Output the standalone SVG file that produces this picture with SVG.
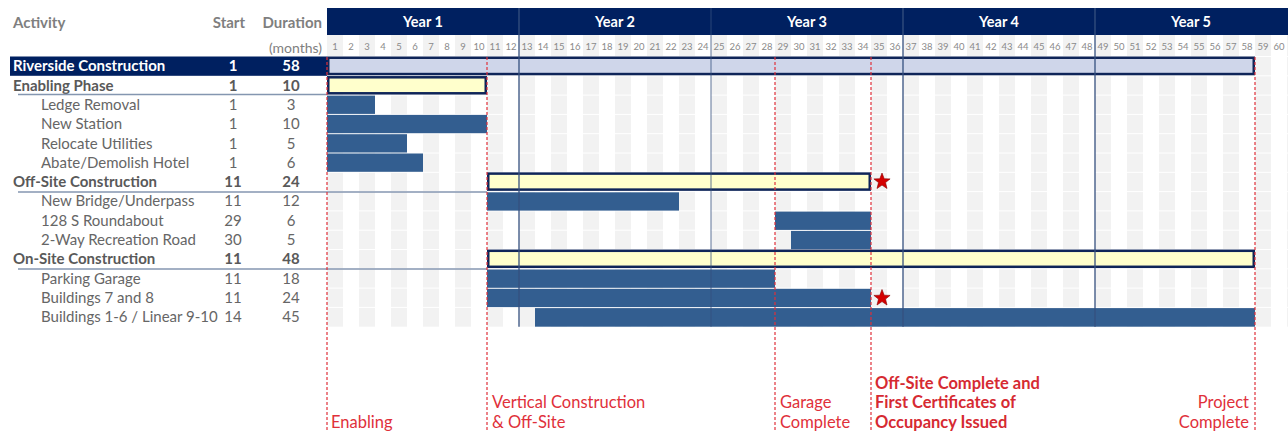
<svg xmlns="http://www.w3.org/2000/svg" width="1288" height="432" viewBox="0 0 1288 432">
<defs>
<style>
text{font-family:Lato,"Open Sans","Liberation Sans",sans-serif;}
.hd{font-size:15px;font-weight:bold;fill:#7f7f7f;}
.mo{font-size:14px;fill:#7f7f7f;}
.yr{font-size:14.5px;font-weight:bold;fill:#ffffff;text-anchor:middle;}
.mn{font-size:9.5px;fill:#8a8a8a;text-anchor:middle;}
.grp{font-size:15px;font-weight:bold;fill:#595959;}
.sub{font-size:15px;fill:#666666;}
.num{text-anchor:middle;}
.top{font-size:15px;font-weight:bold;fill:#ffffff;}
.bar{fill:#335e90;}
.sum{fill:#ffffcc;stroke:#0f2559;stroke-width:2.5;}
.sep{stroke:#8496b0;stroke-width:1.5;}
.ms{stroke:#e0303a;stroke-width:1.2;stroke-dasharray:3 2;fill:none;}
.yl{stroke:#35507f;stroke-width:1.3;}
.lb{font-size:16.5px;fill:#e0303a;}
.lbb{font-size:16.5px;font-weight:bold;fill:#d62a32;}
.star{fill:#d40000;stroke:#8a0000;stroke-width:0.6;}
</style>
<pattern id="cols" x="327" y="0" width="32" height="432" patternUnits="userSpaceOnUse"><rect x="0" y="0" width="16" height="432" fill="#f2f2f2"/></pattern>
<polygon id="starshape" points="0,-8.5 2.2,-2.8 8.1,-2.6 3.5,1.1 5,7 0,3.6 -5,7 -3.5,1.1 -8.1,-2.6 -2.2,-2.8"/>
</defs>
<rect x="0" y="0" width="1288" height="432" fill="#ffffff"/>

<g id="grid">
<rect x="327" y="35" width="961" height="291.7" fill="url(#cols)"/>
<g stroke="#ffffff" stroke-width="1">
<line x1="327" y1="56.5" x2="1288" y2="56.5"/>
<line x1="327" y1="75.8" x2="1288" y2="75.8"/>
<line x1="327" y1="95.1" x2="1288" y2="95.1"/>
<line x1="327" y1="114.4" x2="1288" y2="114.4"/>
<line x1="327" y1="133.7" x2="1288" y2="133.7"/>
<line x1="327" y1="153" x2="1288" y2="153"/>
<line x1="327" y1="172.3" x2="1288" y2="172.3"/>
<line x1="327" y1="191.6" x2="1288" y2="191.6"/>
<line x1="327" y1="210.9" x2="1288" y2="210.9"/>
<line x1="327" y1="230.2" x2="1288" y2="230.2"/>
<line x1="327" y1="249.5" x2="1288" y2="249.5"/>
<line x1="327" y1="268.8" x2="1288" y2="268.8"/>
<line x1="327" y1="288.1" x2="1288" y2="288.1"/>
<line x1="327" y1="307.4" x2="1288" y2="307.4"/>
</g>
</g>

<g id="header">
<text class="hd" x="13" y="27.5">Activity</text>
<text class="hd" x="245" y="27.5" text-anchor="end">Start</text>
<text class="hd" x="322" y="27.5" text-anchor="end">Duration</text>
<text class="mo" x="322" y="52.5" text-anchor="end">(months)</text>
<rect x="327" y="8" width="961" height="27" fill="#002060"/>
<text class="yr" x="423" y="27">Year 1</text>
<text class="yr" x="615" y="27">Year 2</text>
<text class="yr" x="807" y="27">Year 3</text>
<text class="yr" x="999" y="27">Year 4</text>
<text class="yr" x="1191" y="27">Year 5</text>
<g id="months">
<text class="mn" x="335" y="50">1</text><text class="mn" x="351" y="50">2</text><text class="mn" x="367" y="50">3</text><text class="mn" x="383" y="50">4</text><text class="mn" x="399" y="50">5</text><text class="mn" x="415" y="50">6</text><text class="mn" x="431" y="50">7</text><text class="mn" x="447" y="50">8</text><text class="mn" x="463" y="50">9</text><text class="mn" x="479" y="50">10</text><text class="mn" x="495" y="50">11</text><text class="mn" x="511" y="50">12</text>
<text class="mn" x="527" y="50">13</text><text class="mn" x="543" y="50">14</text><text class="mn" x="559" y="50">15</text><text class="mn" x="575" y="50">16</text><text class="mn" x="591" y="50">17</text><text class="mn" x="607" y="50">18</text><text class="mn" x="623" y="50">19</text><text class="mn" x="639" y="50">20</text><text class="mn" x="655" y="50">21</text><text class="mn" x="671" y="50">22</text><text class="mn" x="687" y="50">23</text><text class="mn" x="703" y="50">24</text>
<text class="mn" x="719" y="50">25</text><text class="mn" x="735" y="50">26</text><text class="mn" x="751" y="50">27</text><text class="mn" x="767" y="50">28</text><text class="mn" x="783" y="50">29</text><text class="mn" x="799" y="50">30</text><text class="mn" x="815" y="50">31</text><text class="mn" x="831" y="50">32</text><text class="mn" x="847" y="50">33</text><text class="mn" x="863" y="50">34</text><text class="mn" x="879" y="50">35</text><text class="mn" x="895" y="50">36</text>
<text class="mn" x="911" y="50">37</text><text class="mn" x="927" y="50">38</text><text class="mn" x="943" y="50">39</text><text class="mn" x="959" y="50">40</text><text class="mn" x="975" y="50">41</text><text class="mn" x="991" y="50">42</text><text class="mn" x="1007" y="50">43</text><text class="mn" x="1023" y="50">44</text><text class="mn" x="1039" y="50">45</text><text class="mn" x="1055" y="50">46</text><text class="mn" x="1071" y="50">47</text><text class="mn" x="1087" y="50">48</text>
<text class="mn" x="1103" y="50">49</text><text class="mn" x="1119" y="50">50</text><text class="mn" x="1135" y="50">51</text><text class="mn" x="1151" y="50">52</text><text class="mn" x="1167" y="50">53</text><text class="mn" x="1183" y="50">54</text><text class="mn" x="1199" y="50">55</text><text class="mn" x="1215" y="50">56</text><text class="mn" x="1231" y="50">57</text><text class="mn" x="1247" y="50">58</text><text class="mn" x="1263" y="50">59</text><text class="mn" x="1279" y="50">60</text>
</g>
</g>

<g id="row-riverside">
<rect x="10" y="56.5" width="317" height="19.3" fill="#002060"/>
<text class="top" x="13" y="71.3">Riverside Construction</text>
<text class="top num" x="233" y="71.3">1</text>
<text class="top num" x="291" y="71.3">58</text>
<rect x="328.25" y="57.75" width="925.5" height="16.3" fill="#cfd6ea" stroke="#0f2559" stroke-width="2.5"/>
</g>

<g id="row-enabling">
<text class="grp" x="13" y="90.6">Enabling Phase</text>
<text class="grp num" x="233" y="90.6">1</text>
<text class="grp num" x="291" y="90.6">10</text>
<line class="sep" x1="18" y1="94.6" x2="327" y2="94.6"/>
<rect class="sum" x="328.25" y="77.3" width="157.5" height="16"/>
</g>
<g id="row-ledge">
<text class="sub" x="41" y="109.9">Ledge Removal</text>
<text class="sub num" x="233" y="109.9">1</text>
<text class="sub num" x="291" y="109.9">3</text>
<rect class="bar" x="327" y="95.6" width="48" height="18.3"/>
</g>
<g id="row-station">
<text class="sub" x="41" y="129.2">New Station</text>
<text class="sub num" x="233" y="129.2">1</text>
<text class="sub num" x="291" y="129.2">10</text>
<rect class="bar" x="327" y="114.9" width="160" height="18.3"/>
</g>
<g id="row-relocate">
<text class="sub" x="41" y="148.5">Relocate Utilities</text>
<text class="sub num" x="233" y="148.5">1</text>
<text class="sub num" x="291" y="148.5">5</text>
<rect class="bar" x="327" y="134.2" width="80" height="18.3"/>
</g>
<g id="row-abate">
<text class="sub" x="41" y="167.8">Abate/Demolish Hotel</text>
<text class="sub num" x="233" y="167.8">1</text>
<text class="sub num" x="291" y="167.8">6</text>
<rect class="bar" x="327" y="153.5" width="96" height="18.3"/>
</g>
<g id="row-offsite">
<text class="grp" x="13" y="187.1">Off-Site Construction</text>
<text class="grp num" x="233" y="187.1">11</text>
<text class="grp num" x="291" y="187.1">24</text>
<line class="sep" x1="18" y1="191.9" x2="487" y2="191.9"/>
<rect class="sum" x="488.25" y="173.6" width="381.5" height="16"/>
</g>
<g id="row-bridge">
<text class="sub" x="41" y="206.4">New Bridge/Underpass</text>
<text class="sub num" x="233" y="206.4">11</text>
<text class="sub num" x="291" y="206.4">12</text>
<rect class="bar" x="487" y="192.3" width="192" height="18.3"/>
</g>
<g id="row-roundabout">
<text class="sub" x="41" y="225.7">128 S Roundabout</text>
<text class="sub num" x="233" y="225.7">29</text>
<text class="sub num" x="291" y="225.7">6</text>
<rect class="bar" x="775" y="211.6" width="96" height="18.3"/>
</g>
<g id="row-recroad">
<text class="sub" x="41" y="245">2-Way Recreation Road</text>
<text class="sub num" x="233" y="245">30</text>
<text class="sub num" x="291" y="245">5</text>
<rect class="bar" x="791" y="230.9" width="80" height="18.3"/>
</g>
<g id="row-onsite">
<text class="grp" x="13" y="264.3">On-Site Construction</text>
<text class="grp num" x="233" y="264.3">11</text>
<text class="grp num" x="291" y="264.3">48</text>
<line class="sep" x1="18" y1="268.9" x2="487" y2="268.9"/>
<rect class="sum" x="488.25" y="250.8" width="765.5" height="16"/>
</g>
<g id="row-garage">
<text class="sub" x="41" y="283.6">Parking Garage</text>
<text class="sub num" x="233" y="283.6">11</text>
<text class="sub num" x="291" y="283.6">18</text>
<rect class="bar" x="487" y="269.5" width="288" height="18.3"/>
</g>
<g id="row-b78">
<text class="sub" x="41" y="302.9">Buildings 7 and 8</text>
<text class="sub num" x="233" y="302.9">11</text>
<text class="sub num" x="291" y="302.9">24</text>
<rect class="bar" x="487" y="288.8" width="384" height="18.3"/>
</g>
<g id="row-b16">
<text class="sub" x="41" y="322.2">Buildings 1-6 / Linear 9-10</text>
<text class="sub num" x="233" y="322.2">14</text>
<text class="sub num" x="291" y="322.2">45</text>
<rect class="bar" x="535" y="308.1" width="720" height="18.6"/>
</g>

<g id="year-lines">
<line class="yl" x1="519" y1="8" x2="519" y2="326.7"/>
<line class="yl" x1="711" y1="8" x2="711" y2="326.7" opacity="0.6"/>
<line class="yl" x1="903" y1="8" x2="903" y2="326.7"/>
<line class="yl" x1="1095" y1="8" x2="1095" y2="326.7"/>
</g>

<g id="connectors">
<line class="ms" x1="327" y1="57" x2="327" y2="432"/>
<line class="ms" x1="487" y1="57" x2="487" y2="432"/>
<line class="ms" x1="775" y1="57" x2="775" y2="432"/>
<line class="ms" x1="871" y1="57" x2="871" y2="432"/>
<line class="ms" x1="1255" y1="57" x2="1255" y2="432"/>
</g>

<g id="stars">
<use href="#starshape" class="star" x="882" y="181.5"/>
<use href="#starshape" class="star" x="882" y="298"/>
</g>

<g id="milestone-labels">
<text class="lb" x="331" y="427.5">Enabling</text>
<text class="lb" x="492" y="408">Vertical Construction</text>
<text class="lb" x="492" y="427.5">&amp; Off-Site</text>
<text class="lb" x="780" y="408">Garage</text>
<text class="lb" x="780" y="427.5">Complete</text>
<text class="lbb" x="875" y="388.5">Off-Site Complete and</text>
<text class="lbb" x="875" y="408">First Certificates of</text>
<text class="lbb" x="875" y="427.5">Occupancy Issued</text>
<text class="lb" x="1249" y="408" text-anchor="end">Project</text>
<text class="lb" x="1249" y="427.5" text-anchor="end">Complete</text>
</g>
</svg>
